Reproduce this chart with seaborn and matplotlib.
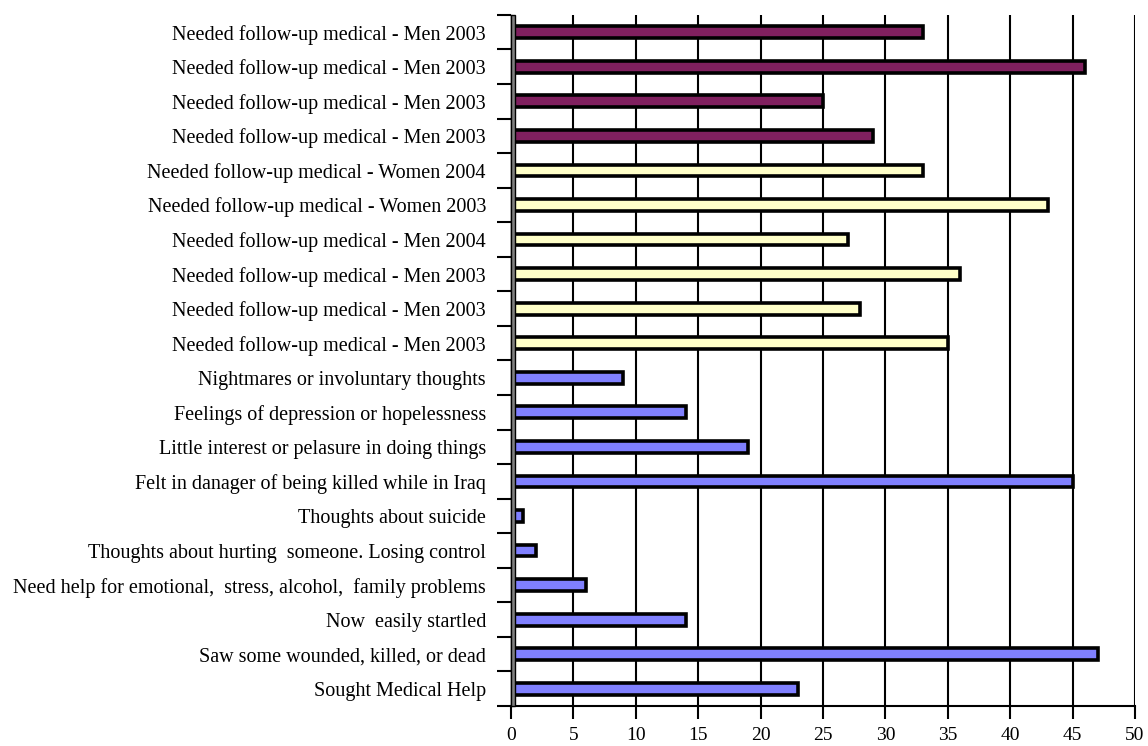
import seaborn as sns
import matplotlib.pyplot as plt
import pandas as pd
from matplotlib.patches import Rectangle

labels = [
    "Needed follow-up medical - Men 2003",
    "Needed follow-up medical - Men 2003",
    "Needed follow-up medical - Men 2003",
    "Needed follow-up medical - Men 2003",
    "Needed follow-up medical - Women 2004",
    "Needed follow-up medical - Women 2003",
    "Needed follow-up medical - Men 2004",
    "Needed follow-up medical - Men 2003",
    "Needed follow-up medical - Men 2003",
    "Needed follow-up medical - Men 2003",
    "Nightmares or involuntary thoughts",
    "Feelings of depression or hopelessness",
    "Little interest or pelasure in doing things",
    "Felt in danager of being killed while in Iraq",
    "Thoughts about suicide",
    "Thoughts about hurting  someone. Losing control",
    "Need help for emotional,  stress, alcohol,  family problems",
    "Now  easily startled",
    "Saw some wounded, killed, or dead",
    "Sought Medical Help",
]
valores = [33, 46, 25, 29, 33, 43, 27, 36, 28, 35,
           9, 14, 19, 45, 1, 2, 6, 14, 47, 23]
grupos = ["a"] * 4 + ["b"] * 6 + ["c"] * 10
cores = {"a": "#80205F", "b": "#FFFFC8", "c": "#8080FF"}

df = pd.DataFrame({
    "linha": [f"r{i}" for i in range(len(labels))],
    "valor": valores,
    "grupo": grupos,
})

sns.set_theme(style="white")
plt.rcParams["font.family"] = ["Liberation Serif", "DejaVu Serif"]
plt.rcParams["text.color"] = "black"
plt.rcParams["xtick.color"] = "black"
plt.rcParams["ytick.color"] = "black"

fig = plt.figure(figsize=(11.48, 7.46), dpi=100)
ax = fig.add_axes([0.4451, 0.0536, 0.5436, 0.9264])

# gridlines behind the bars
for v in range(5, 55, 5):
    ax.axvline(v, color="black", lw=1.5, zorder=0)

sns.barplot(
    data=df, x="valor", y="linha", hue="grupo", orient="h",
    palette=cores, saturation=1, dodge=False, width=0.34,
    edgecolor="black", linewidth=2.6, legend=False, ax=ax, zorder=2
)

n = len(labels)
ax.set_xlim(0, 50)
ax.set_ylim(n - 0.5, -0.5)
ax.set_xticks(range(0, 55, 5))
ax.set_yticks([i - 0.5 for i in range(n + 1)])
ax.set_yticklabels([])
ax.set_yticks(range(n), minor=True)
ax.set_yticklabels(labels, minor=True)
ax.tick_params(axis="y", which="major", direction="out", length=10, width=1.5,
               color="black", left=True)
ax.tick_params(axis="y", which="minor", length=0, pad=18, labelsize=14.5,
               labelcolor="black")
ax.tick_params(axis="x", direction="out", length=9, width=1.5,
               color="black", bottom=True, labelsize=14, pad=6,
               labelcolor="black")
ax.set_xlabel("")
ax.set_ylabel("")

for s in ["top", "right"]:
    ax.spines[s].set_visible(False)
ax.spines["bottom"].set_color("black")
ax.spines["bottom"].set_linewidth(1.5)
ax.spines["left"].set_color("black")
ax.spines["left"].set_linewidth(1.0)

# gray side wall
ax.add_patch(Rectangle((0, 0), 0.0065, 1, transform=ax.transAxes,
                       facecolor="#808080", edgecolor="black", lw=1.0,
                       zorder=3, clip_on=False))

fig.savefig("out.png", dpi=100)
